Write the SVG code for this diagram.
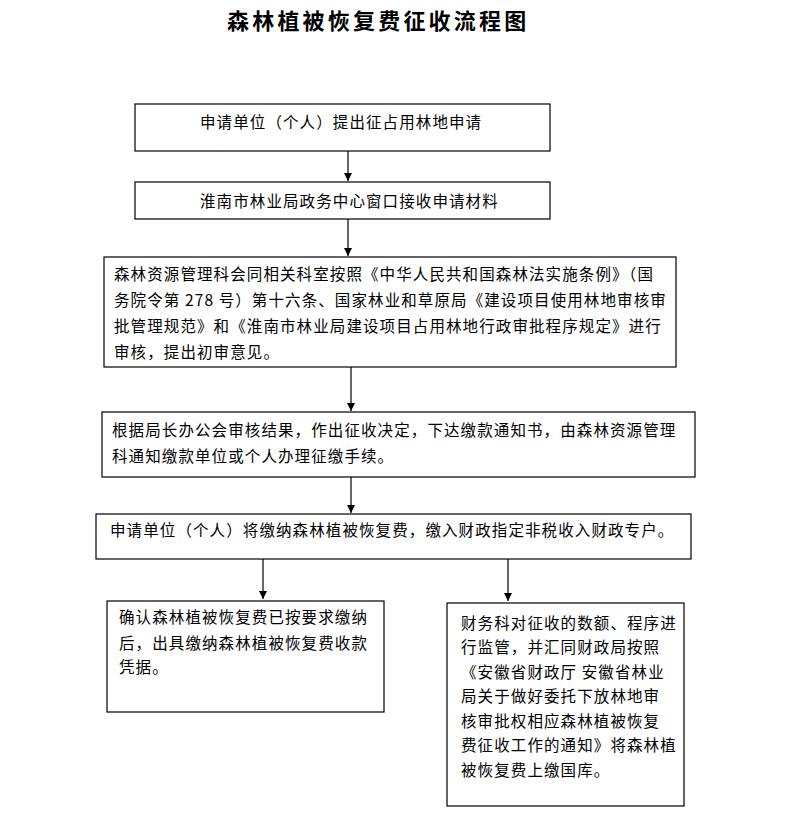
<svg xmlns="http://www.w3.org/2000/svg" width="787" height="817" viewBox="0 0 787 817">
<style>
.box{fill:#fff;stroke:#000;stroke-width:1.2}
.t{font-family:"Noto Sans CJK SC","Liberation Sans",sans-serif;font-size:15.5px;letter-spacing:1.1px;fill:#000}
.title{font-family:"Noto Sans CJK SC",sans-serif;font-size:22px;font-weight:bold;letter-spacing:3.2px;fill:#000}
.c{stroke:#000;stroke-width:1.2;fill:none;marker-end:url(#ah)}
</style>
<defs>
<marker id="ah" viewBox="0 0 10 10" refX="10" refY="5" markerWidth="8" markerHeight="8" markerUnits="userSpaceOnUse" orient="auto">
<path d="M0,0 L10,5 L0,10 z" fill="#000"/>
</marker>
</defs>
<rect width="787" height="817" fill="#fff"/>
<text class="title" x="227" y="29">森林植被恢复费征收流程图</text>
<g id="connectors">
<line class="c" x1="348" y1="151" x2="348" y2="181"/>
<line class="c" x1="348" y1="219" x2="348" y2="256"/>
<line class="c" x1="351" y1="367" x2="351" y2="411"/>
<line class="c" x1="351" y1="477" x2="351" y2="513"/>
<line class="c" x1="263" y1="559" x2="263" y2="599"/>
<line class="c" x1="508" y1="559" x2="508" y2="601"/>
</g>
<g id="n1">
<rect class="box" x="135" y="104" width="415" height="47"/>
<text class="t" x="200" y="128">申请单位（个人）提出征占用林地申请</text>
</g>
<g id="n2">
<rect class="box" x="135" y="182" width="415" height="37"/>
<text class="t" x="200" y="207">淮南市林业局政务中心窗口接收申请材料</text>
</g>
<g id="n3">
<rect class="box" x="104" y="257" width="572" height="110"/>
<text class="t" x="114" y="280">森林资源管理科会同相关科室按照《中华人民共和国森林法实施条例》（国</text>
<text class="t" x="114" y="306">务院令第 278 号）第十六条、国家林业和草原局《建设项目使用林地审核审</text>
<text class="t" x="114" y="332">批管理规范》和《淮南市林业局建设项目占用林地行政审批程序规定》进行</text>
<text class="t" x="114" y="358">审核，提出初审意见。</text>
</g>
<g id="n4">
<rect class="box" x="102" y="412" width="593" height="65"/>
<text class="t" x="112" y="436">根据局长办公会审核结果，作出征收决定，下达缴款通知书，由森林资源管理</text>
<text class="t" x="112" y="462">科通知缴款单位或个人办理征缴手续。</text>
</g>
<g id="n5">
<rect class="box" x="96" y="514" width="595" height="45"/>
<text class="t" x="110" y="536">申请单位（个人）将缴纳森林植被恢复费，缴入财政指定非税收入财政专户。</text>
</g>
<g id="n6">
<rect class="box" x="107" y="601" width="277" height="111"/>
<text class="t" x="119" y="623">确认森林植被恢复费已按要求缴纳</text>
<text class="t" x="119" y="649">后，出具缴纳森林植被恢复费收款</text>
<text class="t" x="119" y="673">凭据。</text>
</g>
<g id="n7">
<rect class="box" x="447" y="603" width="237" height="203"/>
<text class="t" x="461" y="629">财务科对征收的数额、程序进</text>
<text class="t" x="461" y="653">行监管，并汇同财政局按照</text>
<text class="t" x="461" y="678">《安徽省财政厅 安徽省林业</text>
<text class="t" x="461" y="702">局关于做好委托下放林地审</text>
<text class="t" x="461" y="727">核审批权相应森林植被恢复</text>
<text class="t" x="461" y="751">费征收工作的通知》将森林植</text>
<text class="t" x="461" y="776">被恢复费上缴国库。</text>
</g>
</svg>
